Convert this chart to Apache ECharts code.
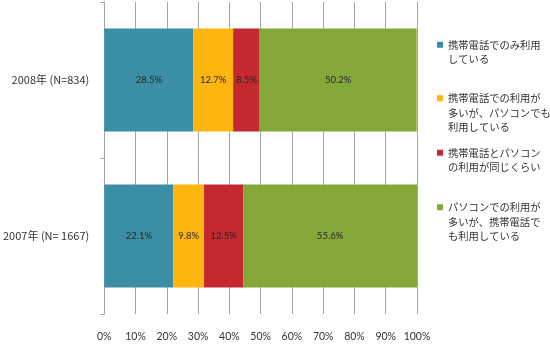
<!DOCTYPE html>
<html>
<head>
<meta charset="utf-8">
<script src="https://cdn.jsdelivr.net/npm/echarts@6/dist/echarts.min.js"></script>
<style>
html,body{margin:0;padding:0;background:#fff;}
#chart{width:550px;height:353px;}
</style>
</head>
<body>
<div id="chart"></div>
<script>
const categories = ['2007年 (N= 1667)', '2008年 (N=834)'];
const seriesNames = [
  '携帯電話でのみ利用\nしている',
  '携帯電話での利用が\n多いが、パソコンでも\n利用している',
  '携帯電話とパソコン\nの利用が同じくらい',
  'パソコンでの利用が\n多いが、携帯電話で\nも利用している'
];
const mobileOnly = [22.1, 28.5];
const mobileMostly = [9.8, 12.7];
const equalUse = [12.5, 8.5];
const pcMostly = [55.6, 50.2];
const xTicks = ['0%', '10%', '20%', '30%', '40%', '50%', '60%', '70%', '80%', '90%', '100%'];

const colors = ['#3A8EA6', '#FDB60F', '#C4292F', '#84A83A'];
const values = [mobileOnly, mobileMostly, equalUse, pcMostly];
const legendTops = [23, 62, 131, 171];
const LH = 14.5;

const chart = echarts.init(document.getElementById('chart'), null, {renderer: 'canvas'});
const option = {
  animation: false,
  color: colors,
  grid: {left: 99, right: 133, top: 2, bottom: 39, containLabel: false},
  xAxis: {
    type: 'value', min: 0, max: 100, interval: 10,
    axisLine: {show: false},
    axisTick: {show: false},
    splitLine: {show: true, lineStyle: {color: '#a6a6a6', width: 1}},
    axisLabel: {
      margin: 17, color: '#333', fontSize: 10.5, fontFamily: 'Lato, "Liberation Sans", sans-serif',
      formatter: function (v) { return xTicks[Math.round(v / 10)]; }
    }
  },
  yAxis: {
    type: 'category', data: categories,
    axisLine: {show: true, lineStyle: {color: '#a6a6a6'}},
    axisTick: {show: true, length: 4, lineStyle: {color: '#a6a6a6'}},
    axisLabel: {margin: 15, color: '#333', fontSize: 11, fontFamily: '"Noto Sans CJK JP", sans-serif'}
  },
  legend: seriesNames.map(function (n, i) {
    const lines = n.split('\n').length;
    return {
      data: [n], orient: 'vertical', left: 437, top: legendTops[i], padding: 0,
      icon: 'rect', itemWidth: 6, itemHeight: 6, itemGap: 0,
      formatter: function (name) { return '\n'.repeat(lines - 1) + name; },
      textStyle: {
        fontSize: 10.3, lineHeight: LH, color: '#333',
        fontFamily: '"Noto Sans CJK JP", sans-serif'
      }
    };
  }),
  series: seriesNames.map(function (n, i) {
    return {
      name: n, type: 'bar', stack: 'total', barCategoryGap: '34%',
      data: values[i],
      itemStyle: {color: colors[i]},
      label: {
        show: true, position: 'inside', color: '#262626', fontSize: 9.5,
        fontFamily: 'Lato, "Liberation Sans", sans-serif',
        formatter: function (p) { return p.value.toFixed(1) + '%'; }
      }
    };
  })
};
chart.setOption(option);
</script>
</body>
</html>
